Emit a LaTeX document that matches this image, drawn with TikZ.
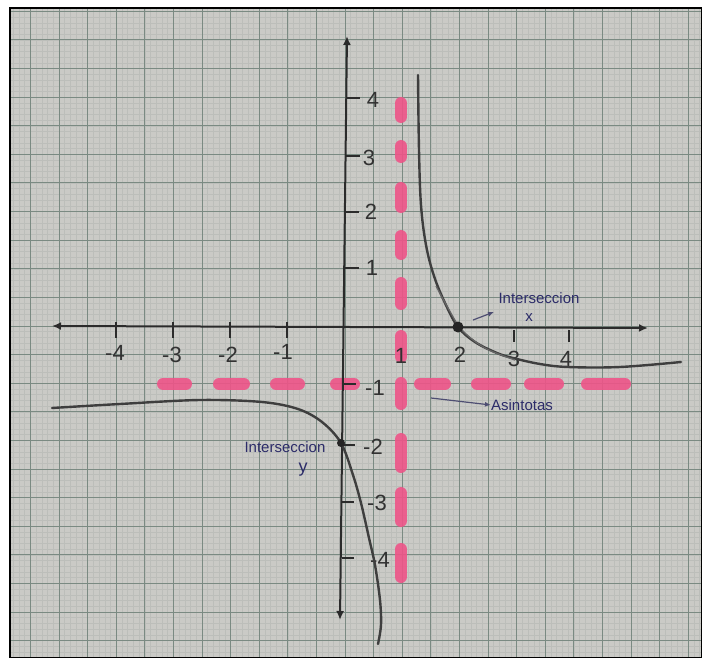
\documentclass[tikz,border=0pt]{standalone}
\usepackage{fontspec}
\setmainfont{Liberation Sans}
\usetikzlibrary{arrows.meta}
\definecolor{paper}{RGB}{202,202,198}
\definecolor{gridfine}{RGB}{188,190,186}
\definecolor{gridmid}{RGB}{122,138,130}
\definecolor{pinkasym}{RGB}{238,84,136}
\definecolor{pencil}{RGB}{62,62,62}
\definecolor{inkblue}{RGB}{44,44,105}
\tikzset{
 finegrid/.style={gridfine, line width=0.45pt},
 midgrid/.style={gridmid, line width=1pt},
 axisline/.style={pencil!70!black, line width=2pt},
 axistip/.style={{Latex[length=9pt,width=8pt]}-{Latex[length=9pt,width=8pt]}},
 asym/.style={pinkasym, line width=12pt, line cap=round, opacity=0.9},
 curveline/.style={pencil, line width=2.4pt, line cap=round},
 numlabel/.style={font=\fontsize{22}{22}\selectfont, text=pencil!80!black, inner sep=0pt},
 note/.style={font=\fontsize{15}{15}\selectfont, text=inkblue, inner sep=0pt},
 tickline/.style={pencil!70!black, line width=1.5pt},
 notearrow/.style={inkblue!60!gray, line width=1.2pt, -{Latex[length=6pt,width=5pt]}},
}
\begin{document}
\begin{tikzpicture}[x=1pt,y=-1pt]
\useasboundingbox (0,0) rectangle (702,658);
\fill[white] (0,0) rectangle (702,658);
\fill[paper] (10,8) rectangle (702,658);
\begin{scope}
\clip (10,8) rectangle (702,658);
\foreach \i in {-58,...,62} \draw[finegrid] ({345+5.72*\i},8) -- ({345+5.72*\i},658);
\foreach \i in {-56,...,58} \draw[finegrid] (10,{326+5.72*\i}) -- (702,{326+5.72*\i});
\foreach \i in {-12,...,13} \draw[midgrid] ({345+28.6*\i},8) -- ({345+28.6*\i},658);
\foreach \i in {-12,...,12} \draw[midgrid] (10,{326+28.6*\i}) -- (702,{326+28.6*\i});
\end{scope}
\draw[black, line width=1.5pt] (10,8) rectangle (701.5,657.5);

% asymptotes (pink dashes)
\foreach \a/\b in {97/123,140/163,182/213,230/260,277/310,330/363,377/410,433/473,487/527,543/583}
  \draw[asym] (401,{\a+6}) -- (401,{\b-6});
\foreach \a/\b in {157/192,213/250,270/305,330/360,414/451,471/511,524/564,581/631}
  \draw[asym] ({\a+6},384) -- ({\b-6},384);

% axes
\coordinate (xl) at (52,326);
\coordinate (xr) at (648,328);
\coordinate (yt) at (347,36);
\coordinate (yb) at (340,620);
\draw[axisline, axistip] (xl) -- (xr);
\draw[axisline, axistip] (yt) -- (yb);

% x ticks and labels
\foreach \x in {116,173,230,287} \draw[tickline] (\x,322) -- (\x,338);
\foreach \x in {514,569} \draw[tickline] (\x,330) -- (\x,342);
\node[numlabel] (xm4) at (115,353) {-4};
\node[numlabel] (xm3) at (172,355) {-3};
\node[numlabel] (xm2) at (228,355) {-2};
\node[numlabel] (xm1) at (283,352) {-1};
\node[numlabel] (xp1) at (401,356) {1};
\node[numlabel] (xp2) at (460,355) {2};
\node[numlabel] (xp3) at (514,359) {3};
\node[numlabel] (xp4) at (566,359) {4};

% y ticks and labels
\foreach \y/\xa in {98/346,156/345.5,212/345,268/344.5} \draw[tickline] (\xa,\y) -- ({\xa+14},\y);
\foreach \y/\xa in {384/343.5,445/343,502/342,558/341.5} \draw[tickline] (\xa,\y) -- ({\xa+12},\y);
\node[numlabel] (yp4) at (373,100) {4};
\node[numlabel] (yp3) at (369,158) {3};
\node[numlabel] (yp2) at (371,212) {2};
\node[numlabel] (yp1) at (372,268) {1};
\node[numlabel] (ym1) at (375,388) {-1};
\node[numlabel] (ym2) at (373,447) {-2};
\node[numlabel] (ym3) at (377,503) {-3};
\node[numlabel] (ym4) at (380,560) {-4};

% curve branches
\draw[curveline] plot[smooth, tension=0.55] coordinates {(52,408) (120,404) (200,400) (262,402) (298,409) (322,422) (341,443) (353,475) (361,503) (369,538) (375,565) (380,600) (381,625) (378,644)};
\draw[curveline] plot[smooth, tension=0.6] coordinates {(418,75) (419,150) (421,205) (426,245) (434,276) (445,303) (458,327) (475,342) (497,353) (513,358) (540,364) (568,367) (620,367) (681,362)};
\draw[pencil!80, line width=1.3pt] plot[smooth, tension=0.55] coordinates {(436,286) (448,308) (462,330) (485,348) (515,360)};

% intersection points
\fill[pencil!60!black] (458,327) circle (5.5pt);
\fill[pencil!60!black] (341,443) circle (4pt);
\coordinate (xint) at (458,327);
\coordinate (yint) at (341,443);

% annotations
\node[note] (intx) at (539,298) {Interseccion};
\node[note] (intxv) at (529,318) {x};
\coordinate (ax1) at (473,320);
\coordinate (ax2) at (494,312);
\draw[notearrow] (ax1) -- (ax2);
\node[note] (inty) at (285,447) {Interseccion};
\node[note, font=\fontsize{18}{18}\selectfont] (intyv) at (303,470) {y};
\node[note] (asin) at (522,405) {Asintotas};
\coordinate (as1) at (431,398);
\draw[notearrow] (as1) -- (asin.west);
\end{tikzpicture}
\end{document}
